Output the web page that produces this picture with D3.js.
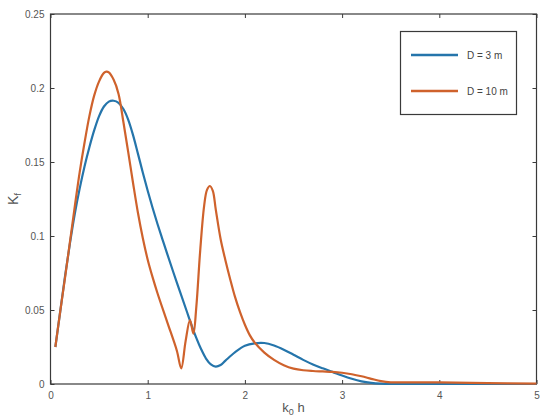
<!DOCTYPE html>
<html>
<head>
<meta charset="utf-8">
<script src="https://cdn.jsdelivr.net/npm/d3@7"></script>
<style>
html,body{margin:0;padding:0;background:#fff;}
svg{display:block;font-family:"Liberation Sans",Arial,sans-serif;}
</style>
</head>
<body>
<svg id="chart" width="550" height="420"></svg>
<script>
const xTicks = [0, 1, 2, 3, 4, 5];
const yTicks = [0, 0.05, 0.1, 0.15, 0.2, 0.25];
const yTickLabels = ["0", "0.05", "0.1", "0.15", "0.2", "0.25"];
const seriesNames = ["D = 3 m", "D = 10 m"];
const seriesColors = ["#2575ab", "#cf622c"];

const xBlue = [0.05,0.1,0.15,0.2,0.25,0.3,0.35,0.4,0.45,0.5,0.55,0.6,0.65,0.7,0.75,0.8,0.85,0.9,0.95,1.0,1.05,1.1,1.15,1.2,1.3,1.4,1.45,1.5,1.55,1.6,1.65,1.7,1.75,1.8,1.9,2.0,2.1,2.2,2.3,2.4,2.5,2.6,2.7,2.8,2.9,3.0,3.1,3.2,3.3,3.4,3.5,4.0,4.5,5.0];
const yBlue = [0.025,0.049,0.073,0.095,0.115,0.132,0.147,0.160,0.1715,0.181,0.1875,0.1908,0.1914,0.190,0.1858,0.1785,0.168,0.1555,0.1428,0.1306,0.1191,0.1083,0.0981,0.0881,0.0685,0.0495,0.040,0.0312,0.0235,0.0172,0.0132,0.0117,0.0128,0.0158,0.0215,0.0258,0.0275,0.0277,0.026,0.0232,0.0198,0.0163,0.0132,0.0106,0.0082,0.0057,0.0035,0.0018,0.0008,0.0003,0.0001,0.0,0.0,0.0];

const xOrange = [0.05,0.1,0.15,0.2,0.25,0.3,0.35,0.4,0.45,0.5,0.55,0.575,0.6,0.65,0.7,0.75,0.8,0.85,0.9,0.95,1.0,1.05,1.1,1.2,1.3,1.345,1.39,1.435,1.47,1.5,1.54,1.58,1.61,1.64,1.67,1.7,1.75,1.8,1.85,1.9,1.95,2.0,2.05,2.1,2.2,2.3,2.4,2.5,2.6,2.7,2.8,2.9,3.0,3.1,3.2,3.3,3.4,3.5,3.6,4.0,4.5,5.0];
const yOrange = [0.025,0.049,0.072,0.096,0.120,0.143,0.163,0.181,0.195,0.2045,0.2102,0.211,0.2105,0.2055,0.196,0.177,0.1565,0.1355,0.1155,0.0985,0.0840,0.0722,0.0615,0.0420,0.0225,0.0106,0.029,0.0432,0.034,0.052,0.090,0.120,0.1312,0.1338,0.1305,0.118,0.098,0.0835,0.0705,0.0585,0.0485,0.0400,0.0330,0.0280,0.0212,0.0163,0.0127,0.0104,0.0093,0.0088,0.0085,0.0082,0.0076,0.0066,0.0052,0.0035,0.0019,0.0011,0.0011,0.0011,0.0006,0.0002];

const margin = {left: 50.5, right: 13.5, top: 14, bottom: 36};
const W = 550, H = 420;
const svg = d3.select("#chart");

const x = d3.scaleLinear().domain([0, 5]).range([margin.left, W - margin.right]);
const y = d3.scaleLinear().domain([0, 0.25]).range([H - margin.bottom, margin.top]);

const axisColor = "#3a3a3a";
const labelColor = "#555";

// frame
svg.append("rect")
  .attr("x", x(0)).attr("y", y(0.25))
  .attr("width", x(5) - x(0)).attr("height", y(0) - y(0.25))
  .attr("fill", "none").attr("stroke", axisColor).attr("stroke-width", 1.2);

// axes with inward ticks
const fmtY = d => yTickLabels[yTicks.indexOf(d)];
const gx = svg.append("g").attr("transform", `translate(0,${y(0)})`)
  .call(d3.axisBottom(x).tickValues(xTicks).tickSize(-4).tickPadding(8).tickFormat(d3.format("d")));
const gy = svg.append("g").attr("transform", `translate(${x(0)},0)`)
  .call(d3.axisLeft(y).tickValues(yTicks).tickSize(-4).tickPadding(6).tickFormat(fmtY));
const gxt = svg.append("g").attr("transform", `translate(0,${y(0.25)})`)
  .call(d3.axisTop(x).tickValues(xTicks).tickSize(-4).tickFormat(""));
const gyr = svg.append("g").attr("transform", `translate(${x(5)},0)`)
  .call(d3.axisRight(y).tickValues(yTicks).tickSize(-4).tickFormat(""));
[gx, gy, gxt, gyr].forEach(g => {
  g.select(".domain").remove();
  g.selectAll(".tick line").attr("stroke", axisColor).attr("stroke-width", 1);
  g.selectAll(".tick text").attr("fill", labelColor).attr("font-size", 10)
    .attr("font-family", "'Liberation Sans',Arial,sans-serif");
});

// lines
const lineGen = d3.line().x(d => x(d[0])).y(d => y(d[1])).curve(d3.curveCatmullRom.alpha(0.5));
const blueData = xBlue.map((v, i) => [v, yBlue[i]]);
const orangeData = xOrange.map((v, i) => [v, yOrange[i]]);

svg.append("path").datum(blueData).attr("d", lineGen)
  .attr("fill", "none").attr("stroke", seriesColors[0]).attr("stroke-width", 2.2).attr("stroke-linejoin", "round");
svg.append("path").datum(orangeData).attr("d", lineGen)
  .attr("fill", "none").attr("stroke", seriesColors[1]).attr("stroke-width", 2.2).attr("stroke-linejoin", "round");

// axis titles
const xt = svg.append("text").attr("x", x(2.5)).attr("y", 412).attr("text-anchor", "middle")
  .attr("fill", labelColor).attr("font-size", 13);
xt.append("tspan").text("k");
xt.append("tspan").attr("font-size", 9).attr("dy", 3).text("0");
xt.append("tspan").attr("dy", -3).text(" h");

const yt = svg.append("text").attr("transform", `translate(18,${y(0.125)}) rotate(-90)`)
  .attr("text-anchor", "middle").attr("fill", labelColor).attr("font-size", 14);
yt.append("tspan").text("K");
yt.append("tspan").attr("font-size", 9).attr("dy", 3).text("f");

// legend
const lg = svg.append("g");
lg.append("rect").attr("x", 400.5).attr("y", 31.5).attr("width", 116).attr("height", 83)
  .attr("fill", "#fff").attr("stroke", axisColor).attr("stroke-width", 1.2);
seriesNames.forEach((name, i) => {
  const yy = 55 + i * 36;
  lg.append("line").attr("x1", 411).attr("x2", 458).attr("y1", yy).attr("y2", yy)
    .attr("stroke", seriesColors[i]).attr("stroke-width", 2.5);
  lg.append("text").attr("x", 467).attr("y", yy + 3.5).attr("fill", "#444")
    .attr("font-size", 10).text(name);
});
</script>
</body>
</html>
